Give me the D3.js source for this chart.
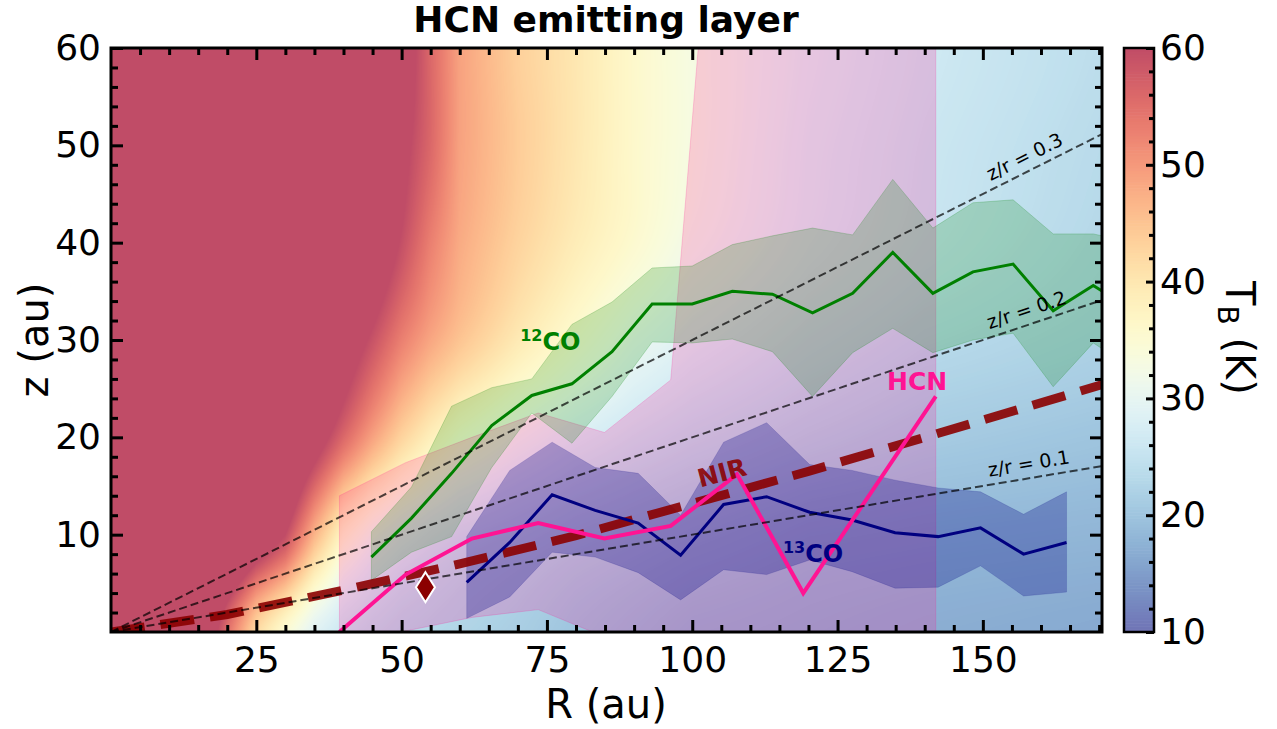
<!DOCTYPE html>
<html lang="en">
<head>
<meta charset="UTF-8">
<title>HCN emitting layer</title>
<style>
  body { margin: 0; background: #fff; }
  svg { display: block; font-family: "DejaVu Sans", sans-serif; }
</style>
</head>
<body>
<svg width="1277" height="729"></svg>
<script src="https://cdn.jsdelivr.net/npm/d3@7"></script>
<script>
// brightness temperature map (R in au, z in au, T in K)
const bgR = [0, 15, 20, 25, 30, 35, 40, 45, 50, 55, 60, 70, 80, 90, 100, 120, 140, 171];
const bgZ = [0, 10, 20, 30, 40, 50, 60];
const bgT = [
  [90, 70, 55, 42, 35, 29, 26, 24.5, 23.5, 23, 22.5, 21.5, 20, 19, 18, 17.5, 17, 16.5],
  [90, 85, 75, 67, 60, 47, 37, 32, 29, 27, 25.5, 24, 22.5, 21.5, 20.5, 19, 18.5, 18],
  [90, 88, 84, 78, 71, 64, 56, 49, 43, 38.5, 35, 31, 28, 26, 24.5, 22.5, 21, 20],
  [90, 90, 88, 84, 78, 72, 65, 59, 53, 48.5, 45, 39.5, 35, 31, 28.5, 25.5, 23.5, 22],
  [90, 90, 90, 86, 82, 77, 72, 66, 59.5, 53, 48, 43, 39, 35.5, 32, 28, 25.5, 23],
  [90, 90, 90, 88, 85, 80, 75, 69, 62, 56, 49, 44, 40, 36, 33, 28.5, 26, 23.5],
  [90, 90, 90, 88, 86, 82, 77, 71, 64, 56, 49, 43.5, 40, 36, 33, 29, 26.5, 24]
];

// 12CO emitting surface with its spread
const co12R  = [44.8, 51.7, 58.6, 65.5, 72.4, 79.3, 86.2, 93.1, 100.0, 106.9, 113.8, 120.7, 127.6, 134.5, 141.4, 148.3, 155.2, 162.1, 169.0, 175.9];
const co12Z  = [7.7, 11.7, 16.3, 21.2, 24.3, 25.5, 28.8, 33.7, 33.7, 35.0, 34.7, 32.8, 34.8, 39.0, 34.8, 37.0, 37.8, 33.0, 35.6, 33.0];
const co12Lo = [5.3, 8.2, 9.8, 16.9, 22.5, 19.4, 24.2, 29.8, 29.7, 30.1, 28.8, 24.2, 28.7, 31.2, 28.7, 30.0, 30.7, 25.2, 29.7, 27.0];
const co12Hi = [10.3, 14.9, 23.2, 25.1, 26.0, 31.6, 33.9, 37.4, 37.6, 39.8, 40.7, 41.5, 40.8, 46.5, 41.5, 44.1, 44.4, 40.9, 40.9, 40.0];

// 13CO
const co13R  = [61.2, 68.6, 75.9, 83.3, 90.7, 98.0, 105.4, 112.8, 120.2, 127.5, 134.9, 142.3, 149.6, 157.0, 164.4];
const co13Z  = [5.1, 9.2, 14.1, 12.5, 11.2, 7.9, 13.1, 13.9, 12.3, 11.5, 10.2, 9.8, 10.7, 8.0, 9.2];
const co13Lo = [1.4, 3.6, 8.2, 7.7, 6.1, 3.3, 6.4, 5.9, 7.4, 6.2, 4.5, 4.6, 6.8, 3.7, 4.1];
const co13Hi = [9.8, 16.6, 19.5, 16.9, 16.3, 12.0, 19.5, 21.5, 17.2, 16.6, 15.6, 14.8, 14.4, 12.1, 14.4];

// HCN
const hcnR  = [39.3, 50.7, 62.1, 73.5, 84.9, 96.3, 107.7, 119.1, 130.5, 141.9];
const hcnZ  = [0.0, 5.9, 9.6, 11.2, 9.6, 10.9, 16.2, 4.0, 14.1, 24.2];
const hcnLo = [-3.0, 0.1, 1.5, 2.3, -0.5, -2.0, -3.0, -8.0, -5.0, -1.0];
const hcnHi = [14.0, 17.4, 20.0, 22.5, 20.5, 25.9, 108, 95, 85, 75];

// NIR scattering surface and the single point
const nirR = [0, 20, 40, 60, 80, 100, 120, 140, 171];
const nirZ = [0.0, 1.8, 4.3, 7.0, 9.9, 13.2, 16.5, 20.0, 25.5];
const nirPtR = [54.1];
const nirPtZ = [4.6];

const zrRatios = [0.1, 0.2, 0.3];
const xTicks = [25, 50, 75, 100, 125, 150];
const yTicks = [10, 20, 30, 40, 50, 60];
const cbTicks = [10, 20, 30, 40, 50, 60];

const svg = d3.select("svg");
const x = d3.scaleLinear().domain([0, 170.5]).range([111, 1102]);
const y = d3.scaleLinear().domain([0, 60]).range([632, 48]);
const tColor = d3.scaleSequential(t => d3.interpolateRdYlBu(1 - t)).domain([10, 60]).clamp(true);
const fade = c => { const k = d3.rgb(c); return [k.r * 0.7 + 76.5, k.g * 0.7 + 76.5, k.b * 0.7 + 76.5]; };

svg.append("defs").append("clipPath").attr("id", "plot")
  .append("rect").attr("x", 111).attr("y", 48).attr("width", 991).attr("height", 584);

// background map on a canvas: linear along R, cubic along z
const cw = 991, ch = 584;
const canvas = document.createElement("canvas");
canvas.width = cw; canvas.height = ch;
const ctx = canvas.getContext("2d");
const img = ctx.createImageData(cw, ch);
const lut = d3.range(501).map(k => fade(tColor(10 + k * 0.1)));
function cell(arr, v) {
  let i = d3.bisectRight(arr, v) - 1;
  i = Math.max(0, Math.min(arr.length - 2, i));
  const t = Math.max(0, Math.min(1, (v - arr[i]) / (arr[i + 1] - arr[i])));
  return [i, t];
}
const cubic = (p0, p1, p2, p3, t) =>
  0.5 * (2 * p1 + (p2 - p0) * t + (2 * p0 - 5 * p1 + 4 * p2 - p3) * t * t + (3 * p1 - p0 - 3 * p2 + p3) * t * t * t);
const nz = bgZ.length;
const cols = d3.range(cw).map(px => cell(bgR, x.invert(111 + px + 0.5)));
for (let py = 0; py < ch; py++) {
  const [j, u] = cell(bgZ, y.invert(48 + py + 0.5));
  const rows = [j - 1, j, j + 1, j + 2].map(k => bgT[Math.max(0, Math.min(nz - 1, k))]);
  for (let px = 0; px < cw; px++) {
    const [i, t] = cols[px];
    const v = rows.map(r => (1 - t) * r[i] + t * r[i + 1]);
    const T = cubic(v[0], v[1], v[2], v[3], u);
    const k = Math.max(0, Math.min(500, Math.round((T - 10) * 10)));
    const c = lut[k], o = (py * cw + px) * 4;
    img.data[o] = c[0]; img.data[o + 1] = c[1]; img.data[o + 2] = c[2]; img.data[o + 3] = 255;
  }
}
ctx.putImageData(img, 0, 0);
svg.append("image").attr("x", 111).attr("y", 48).attr("width", cw).attr("height", ch)
  .attr("href", canvas.toDataURL());

const plot = svg.append("g").attr("clip-path", "url(#plot)");

const band = (R, lo, hi) => d3.area().x((d, i) => x(R[i])).y0((d, i) => y(lo[i])).y1((d, i) => y(hi[i]))(R);
const line = (R, Z) => d3.line().x((d, i) => x(R[i])).y((d, i) => y(Z[i]))(R);

plot.append("path").attr("d", band(hcnR, hcnLo, hcnHi))
  .attr("fill", "#ff1493").attr("fill-opacity", 0.2).attr("stroke", "#ff1493").attr("stroke-opacity", 0.2);
plot.append("path").attr("d", band(co12R, co12Lo, co12Hi))
  .attr("fill", "green").attr("fill-opacity", 0.2).attr("stroke", "green").attr("stroke-opacity", 0.2);
plot.append("path").attr("d", band(co13R, co13Lo, co13Hi))
  .attr("fill", "navy").attr("fill-opacity", 0.28).attr("stroke", "navy").attr("stroke-opacity", 0.15);

plot.append("path").attr("d", line(nirR, nirZ)).attr("fill", "none")
  .attr("stroke", "#8b0000").attr("stroke-opacity", 0.9).attr("stroke-width", 9).attr("stroke-dasharray", "34,16");

plot.append("path").attr("d", line(co12R, co12Z)).attr("fill", "none").attr("stroke", "green").attr("stroke-width", 3);
plot.append("path").attr("d", line(co13R, co13Z)).attr("fill", "none").attr("stroke", "navy").attr("stroke-width", 3);
plot.append("path").attr("d", line(hcnR, hcnZ)).attr("fill", "none").attr("stroke", "#ff1493").attr("stroke-width", 4);

// z/r lines
zrRatios.forEach(q => {
  const ends = [0, 170.5];
  plot.append("path").attr("d", line(ends, ends.map(r => r * q))).attr("fill", "none")
    .attr("stroke", "black").attr("stroke-opacity", 0.7).attr("stroke-width", 2).attr("stroke-dasharray", "8,4");
  const rl = 158.3;
  const ang = Math.atan2(y(0) - y(q * 100), x(100) - x(0)) * 180 / Math.PI;
  svg.append("text").attr("transform", `translate(${x(rl)},${y(rl * q)}) rotate(${-ang})`)
    .attr("y", -8).attr("text-anchor", "middle").attr("font-size", 19).text(`z/r = ${q}`);
});

plot.selectAll(".nirpt").data(nirPtR).join("path")
  .attr("transform", (d, i) => `translate(${x(d)},${y(nirPtZ[i])})`)
  .attr("d", "M0,-15L9.5,0L0,15L-9.5,0Z")
  .attr("fill", "#8b0000").attr("stroke", "white").attr("stroke-width", 2);

// labels
const co12Lab = svg.append("text").attr("x", x(70.4)).attr("y", y(29.0)).attr("fill", "green")
  .attr("font-weight", "bold").attr("font-size", 24);
co12Lab.append("tspan").attr("font-size", 16).attr("dy", -9).text("12");
co12Lab.append("tspan").attr("dy", 9).text("CO");
const co13Lab = svg.append("text").attr("x", x(115.6)).attr("y", y(7.2)).attr("fill", "navy")
  .attr("font-weight", "bold").attr("font-size", 24);
co13Lab.append("tspan").attr("font-size", 16).attr("dy", -9).text("13");
co13Lab.append("tspan").attr("dy", 9).text("CO");
svg.append("text").attr("x", x(138.7)).attr("y", y(24.9)).attr("text-anchor", "middle")
  .attr("fill", "#ff1493").attr("font-weight", "bold").attr("font-size", 25).text("HCN");
svg.append("text").attr("transform", `translate(${x(105.1)},${y(16.4)}) rotate(-15)`)
  .attr("y", 9).attr("text-anchor", "middle").attr("fill", "#8b0000").attr("fill-opacity", 0.9)
  .attr("font-weight", "bold").attr("font-size", 25).text("NIR");

// axes, ticks inward on every side
const xMinor = d3.range(5, 171, 5).filter(v => !xTicks.includes(v));
const yMinor = d3.range(2, 60, 2).filter(v => !yTicks.includes(v));
function styleTicks(g) {
  g.selectAll(".domain").remove();
  g.selectAll(".tick line").attr("stroke", "black").attr("stroke-width", 3);
  g.selectAll(".tick text").attr("fill", "black").attr("font-size", 36).attr("font-family", "DejaVu Sans");
}
function tickSet(gen, scale, major, minor, pos, labels) {
  const g = svg.append("g").attr("transform", pos);
  g.append("g").call(gen(scale).tickValues(minor).tickSizeInner(-7).tickSizeOuter(0).tickFormat(""));
  g.append("g").call(gen(scale).tickValues(major).tickSizeInner(-12).tickSizeOuter(0)
    .tickPadding(labels ? (gen === d3.axisBottom ? 14 : 10) : 0).tickFormat(labels ? d3.format("d") : ""));
  styleTicks(g);
  return g;
}
tickSet(d3.axisBottom, x, xTicks, xMinor, "translate(0,632)", true);
tickSet(d3.axisTop, x, xTicks, xMinor, "translate(0,48)", false);
tickSet(d3.axisLeft, y, yTicks, yMinor, "translate(111,0)", true);
tickSet(d3.axisRight, y, yTicks, yMinor, "translate(1102,0)", false);

svg.append("rect").attr("x", 111).attr("y", 48).attr("width", 991).attr("height", 584)
  .attr("fill", "none").attr("stroke", "black").attr("stroke-width", 3);

// colorbar
const cb = d3.scaleLinear().domain([10, 60]).range([632, 48]);
const cbSteps = d3.range(10, 60, 0.25);
svg.append("g").selectAll("rect").data(cbSteps).join("rect")
  .attr("x", 1124).attr("width", 30)
  .attr("y", d => cb(d + 0.25)).attr("height", d => cb(d) - cb(d + 0.25) + 0.6)
  .attr("fill", d => d3.rgb(...fade(tColor(d + 0.125))));
const cbG = svg.append("g").attr("transform", "translate(1154,0)");
cbG.append("g").call(d3.axisRight(cb).tickValues(d3.range(12, 60, 2).filter(v => v % 10)).tickSizeInner(-5).tickSizeOuter(0).tickFormat(""));
cbG.append("g").call(d3.axisRight(cb).tickValues(cbTicks).tickSizeInner(-8).tickSizeOuter(0).tickPadding(6).tickFormat(d3.format("d")));
styleTicks(cbG);
svg.append("rect").attr("x", 1124).attr("y", 48).attr("width", 30).attr("height", 584)
  .attr("fill", "none").attr("stroke", "black").attr("stroke-width", 2.5);

// titles
svg.append("text").attr("x", 606).attr("y", 32).attr("text-anchor", "middle")
  .attr("font-weight", "bold").attr("font-size", 36).text("HCN emitting layer");
svg.append("text").attr("x", 606).attr("y", 718).attr("text-anchor", "middle")
  .attr("font-size", 40).text("R (au)");
svg.append("text").attr("transform", "translate(48,340) rotate(-90)").attr("text-anchor", "middle")
  .attr("font-size", 40).text("z (au)");
const tb = svg.append("text").attr("transform", "translate(1226,338) rotate(90)").attr("text-anchor", "middle")
  .attr("font-size", 40);
tb.append("tspan").text("T");
tb.append("tspan").attr("font-size", 28).attr("dy", 8).text("B");
tb.append("tspan").attr("dy", -8).text(" (K)");
</script>
</body>
</html>
